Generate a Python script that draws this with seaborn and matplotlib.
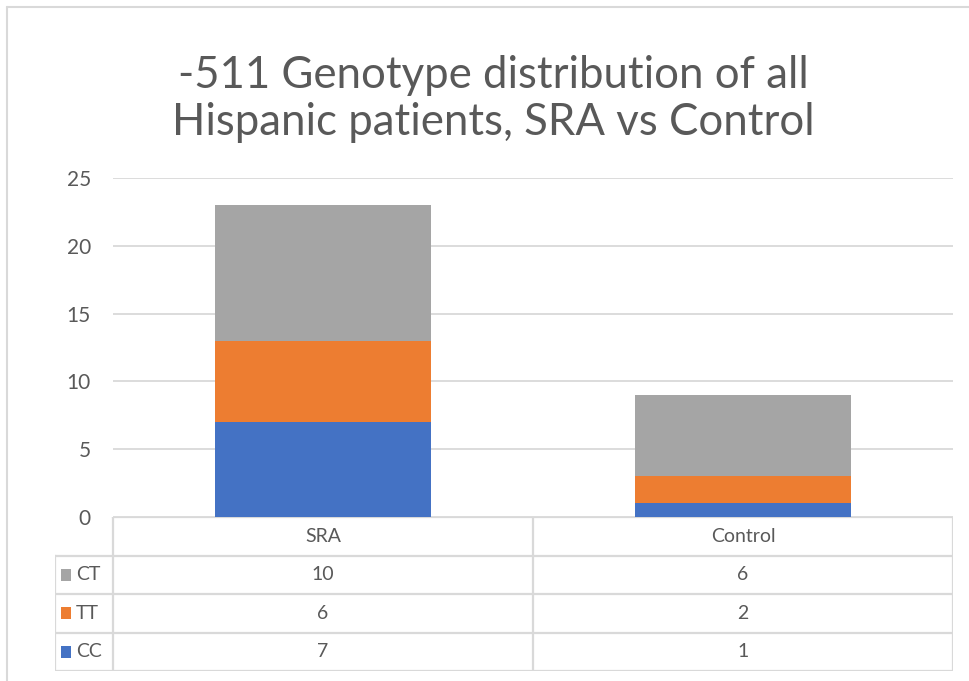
import matplotlib
matplotlib.use("Agg")
import matplotlib.pyplot as plt
from matplotlib.lines import Line2D
from matplotlib.patches import Rectangle
import pandas as pd
import seaborn as sns

categories = ["SRA", "Control"]
cc = [7, 1]
tt = [6, 2]
ct = [10, 6]
genotypes = ["CT", "TT", "CC"]
colors = {"CC": "#4472C4", "TT": "#ED7D31", "CT": "#A5A5A5"}

df = pd.DataFrame({"group": categories, "CC": cc, "TT": tt, "CT": ct})
df["cc_tt"] = df["CC"] + df["TT"]
df["total"] = df["cc_tt"] + df["CT"]

sns.set_style("white")
plt.rcParams["font.family"] = ["Lato", "DejaVu Sans"]

W, H = 969, 681
fig = plt.figure(figsize=(W / 100, H / 100), dpi=100)


def box(l, t, r, b):
    return [l / W, 1 - b / H, (r - l) / W, (b - t) / H]


txt = "#595959"
grid = "#D9D9D9"

ax = fig.add_axes(box(113, 178, 953, 517))
bw = 0.514
# stacked bars: draw cumulative totals back to front
sns.barplot(data=df, x="group", y="total", color=colors["CT"], width=bw,
            saturation=1, linewidth=0, ax=ax)
sns.barplot(data=df, x="group", y="cc_tt", color=colors["TT"], width=bw,
            saturation=1, linewidth=0, ax=ax)
sns.barplot(data=df, x="group", y="CC", color=colors["CC"], width=bw,
            saturation=1, linewidth=0, ax=ax)
ax.set_xlim(-0.5, 1.5)
ax.set_ylim(0, 25)
ax.set_yticks(range(0, 26, 5))
ax.yaxis.grid(True, color=grid, lw=1.3)
ax.set_axisbelow(True)
ax.set_xticks([])
ax.set_xlabel("")
ax.set_ylabel("")
for s in ax.spines.values():
    s.set_visible(False)
ax.tick_params(axis="y", length=0, pad=16, labelsize=15, labelcolor=txt)

# data table under the plot
tab = fig.add_axes(box(55, 517, 953, 671))
left = -0.5 - 58 / 420
tab.set_xlim(left, 1.5)
tab.set_ylim(4, 0)
tab.axis("off")


def px(p):
    return left + (p - 55) / 420


lk = dict(color=grid, lw=1.6, solid_capstyle="projecting")
tab.add_line(Line2D([-0.5, 1.5], [0, 0], **lk))
for yy in [1, 2, 3, 4]:
    tab.add_line(Line2D([left, 1.5], [yy, yy], **lk))
tab.add_line(Line2D([left, left], [1, 4], **lk))
for xx in [-0.5, 0.5, 1.5]:
    tab.add_line(Line2D([xx, xx], [0, 4], **lk))

for i, c in enumerate(categories):
    tab.text(i, 0.5, c, ha="center", va="center", fontsize=14, color=txt)
for r, g in enumerate(genotypes):
    y = r + 1.5
    tab.add_patch(Rectangle((px(61), y - 0.16), 10 / 420, 0.32,
                            color=colors[g], lw=0))
    tab.text(px(76), y, g, ha="left", va="center", fontsize=14, color=txt)
    for i in range(len(categories)):
        tab.text(i, y, str(df[g][i]), ha="center", va="center",
                 fontsize=14, color=txt)

fig.text(493 / W, 1 - 99 / H,
         "-511 Genotype distribution of all\nHispanic patients, SRA vs Control",
         ha="center", va="center", fontsize=31.5, color=txt, linespacing=1.17)

# chart area border (left and top visible)
fig.add_artist(Line2D([7 / W, 7 / W], [0, 1 - 7 / H], color=grid, lw=1.5,
                      transform=fig.transFigure))
fig.add_artist(Line2D([7 / W, 1], [1 - 7 / H, 1 - 7 / H], color=grid, lw=1.5,
                      transform=fig.transFigure))

fig.savefig("out.png", dpi=100, facecolor="white")
